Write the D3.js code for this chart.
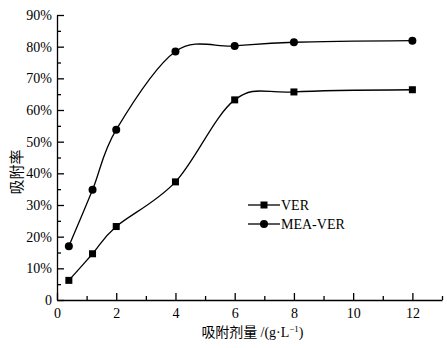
<!DOCTYPE html>
<html>
<head>
<meta charset="utf-8">
<script src="https://cdn.jsdelivr.net/npm/d3@7/dist/d3.min.js"></script>
<style>
  body { margin: 0; background: #fff; }
  text { font-family: "Liberation Serif", "Times New Roman", serif; fill: #000; }
  .cjk { font-family: "Noto Sans CJK SC", sans-serif; }
</style>
</head>
<body>
<div id="chart"></div>
<script>
// data
const dose = [0.4, 1.2, 2, 4, 6, 8, 12]
const ver = [6.2, 14.6, 23.2, 37.3, 63.2, 65.7, 66.4]
const meaVer = [17.0, 34.8, 53.8, 78.5, 80.2, 81.4, 81.9]
const xTickLabels = [0, 2, 4, 6, 8, 10, 12]
const yTickLabels = [0, 10, 20, 30, 40, 50, 60, 70, 80, 90]

const w = 447, h = 348
const margin = {left: 57, right: 5, top: 15, bottom: 48}

const svg = d3.select('#chart').append('svg')
    .attr('width', w).attr('height', h)

const x = d3.scaleLinear().domain([0, 13]).range([margin.left, w - margin.right])
const y = d3.scaleLinear().domain([0, 90]).range([h - margin.bottom, margin.top])

// axes, ticks pointing inward
const xAxis = d3.axisBottom(x)
    .tickValues(d3.range(0, 14))
    .tickSizeInner(-6).tickSizeOuter(0)
    .tickFormat(d => xTickLabels.includes(d) ? d : '')

const yAxis = d3.axisLeft(y)
    .tickValues(d3.range(0, 91, 5))
    .tickSizeInner(-6).tickSizeOuter(0)
    .tickFormat(d => yTickLabels.includes(d) ? (d === 0 ? '0' : d + '%') : '')

const gx = svg.append('g')
    .attr('transform', 'translate(0,' + y(0) + ')')
    .call(xAxis)
gx.selectAll('text').attr('dy', '1.1em').style('font-size', '14px')

const gy = svg.append('g')
    .attr('transform', 'translate(' + x(0) + ',0)')
    .call(yAxis)
gy.selectAll('text').attr('x', -5).style('font-size', '14px')

// longer major ticks
gx.selectAll('.tick line').attr('y2', d => d % 2 === 0 ? -7 : -4)
gy.selectAll('.tick line').attr('x2', d => d % 10 === 0 ? 7 : 4)
svg.selectAll('.domain, .tick line').attr('stroke', '#000').attr('stroke-width', 1.3)
svg.selectAll('.tick text').style('font-family', '"Liberation Serif", serif')

// axis titles
svg.append('text')
    .attr('class', 'cjk')
    .attr('transform', 'translate(17,172) rotate(-90)')
    .attr('text-anchor', 'middle')
    .attr('dy', '0.35em')
    .style('font-size', '15px')
    .text('吸附率')

const xl = svg.append('text')
    .attr('x', x(6.6))
    .attr('y', 337)
    .attr('text-anchor', 'middle')
    .style('font-size', '14px')
xl.append('tspan').attr('class', 'cjk').text('吸附剂量 ')
xl.append('tspan').text('/(g·L')
xl.append('tspan').attr('dy', -5).style('font-size', '9px').text('−1')
xl.append('tspan').attr('dy', 5).text(')')

// curves
const line = d3.line()
    .x((d, i) => x(dose[i]))
    .y(d => y(d))
    .curve(d3.curveCardinal)

const series = [
  {name: 'VER', values: ver, marker: 'square'},
  {name: 'MEA-VER', values: meaVer, marker: 'circle'}
]

series.forEach(s => {
  svg.append('path')
      .datum(s.values)
      .attr('d', line)
      .attr('fill', 'none')
      .attr('stroke', '#000')
      .attr('stroke-width', 1.3)

  if (s.marker === 'square') {
    svg.selectAll('rect.pt-' + s.name)
        .data(s.values)
        .join('rect')
        .attr('x', (d, i) => x(dose[i]) - 3.5)
        .attr('y', d => y(d) - 3.5)
        .attr('width', 7).attr('height', 7)
        .attr('fill', '#000')
  } else {
    svg.selectAll('circle.pt')
        .data(s.values)
        .join('circle')
        .attr('cx', (d, i) => x(dose[i]))
        .attr('cy', d => y(d))
        .attr('r', 4)
        .attr('fill', '#000')
  }
})

// legend
const legend = svg.append('g').attr('transform', 'translate(248,205)')
series.forEach((s, i) => {
  const g = legend.append('g').attr('transform', 'translate(0,' + i * 19 + ')')
  g.append('line').attr('x1', 0).attr('x2', 32).attr('stroke', '#000').attr('stroke-width', 1.3)
  if (s.marker === 'square') {
    g.append('rect').attr('x', 12.5).attr('y', -3.5).attr('width', 7).attr('height', 7)
  } else {
    g.append('circle').attr('cx', 16).attr('r', 4)
  }
  g.append('text').attr('x', 33).attr('dy', '0.35em').style('font-size', '14px').text(s.name)
})
</script>
</body>
</html>
